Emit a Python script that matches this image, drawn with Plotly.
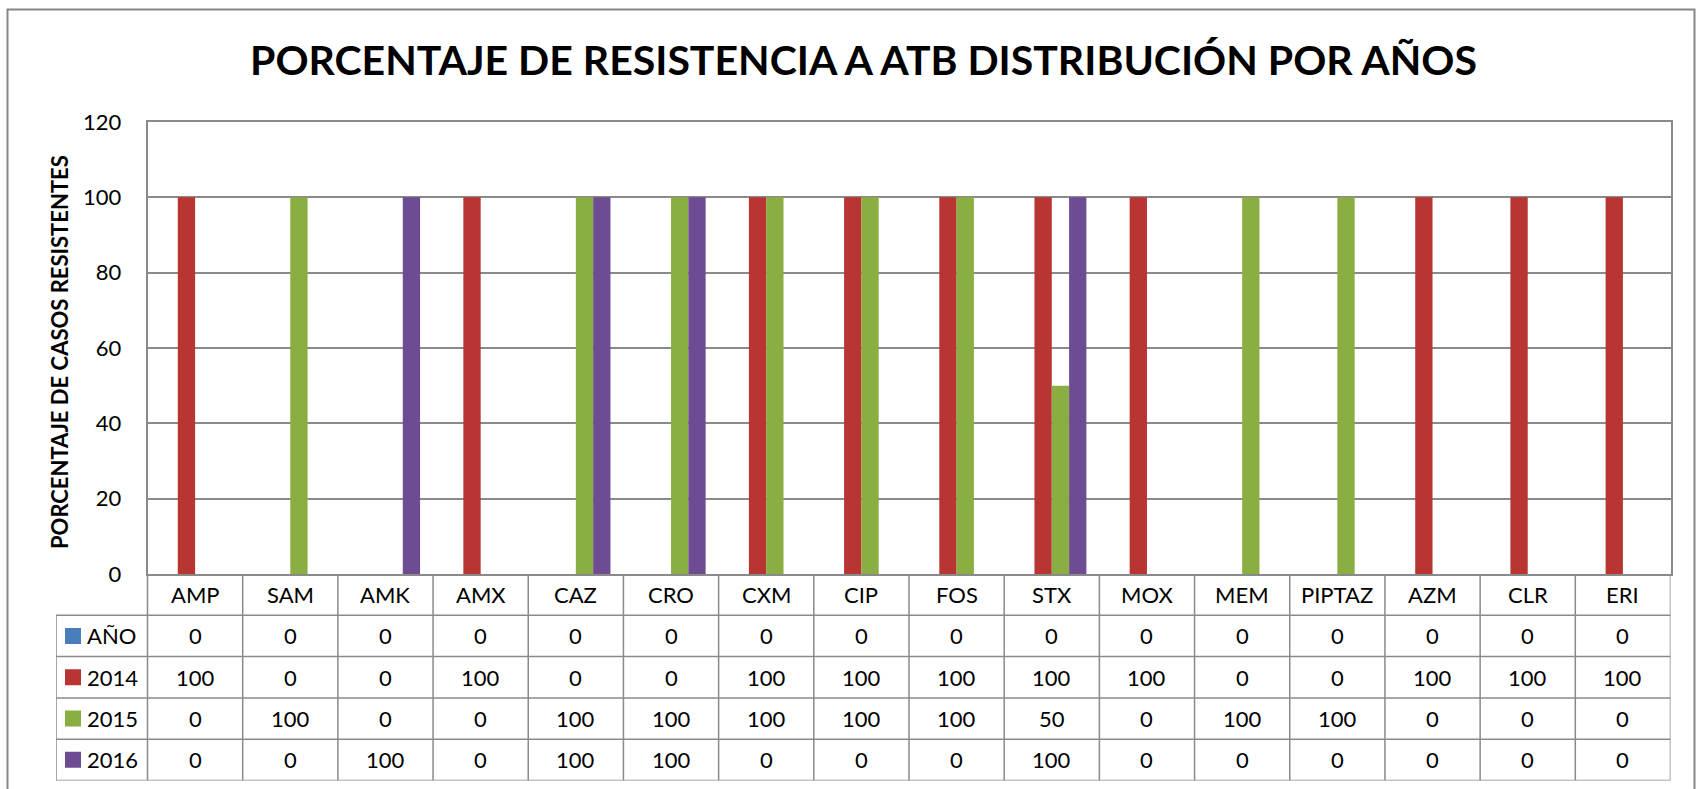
import plotly.graph_objects as go

# datos
antibioticos = ["AMP", "SAM", "AMK", "AMX", "CAZ", "CRO", "CXM", "CIP",
                "FOS", "STX", "MOX", "MEM", "PIPTAZ", "AZM", "CLR", "ERI"]
series = ["AÑO", "2014", "2015", "2016"]
anio = [0, 0, 0, 0, 0, 0, 0, 0, 0, 0, 0, 0, 0, 0, 0, 0]
v2014 = [100, 0, 0, 100, 0, 0, 100, 100, 100, 100, 100, 0, 0, 100, 100, 100]
v2015 = [0, 100, 0, 0, 100, 100, 100, 100, 100, 50, 0, 100, 100, 0, 0, 0]
v2016 = [0, 0, 100, 0, 100, 100, 0, 0, 0, 100, 0, 0, 0, 0, 0, 0]
y_ticks = [0, 20, 40, 60, 80, 100, 120]

valores = [anio, v2014, v2015, v2016]
colores = ["#4A7EBB", "#B83532", "#8AAE42", "#6E4C93"]

W, H = 1701, 789
FONT = "Lato, Arial, sans-serif"
GRIS = "#8A8A8A"

# geometría en píxeles
px_left, px_right = 147.5, 1670.5
px_top, px_bottom = 122, 574
tabla_bottom = 780.5
leyenda_left = 56
n = len(antibioticos)
col_w = (px_right - px_left) / n
lw = (px_left - leyenda_left) / col_w  # ancho de la columna de leyenda en unidades de categoría
x2_min = -0.5 - lw
n_filas = len(series) + 1

fig = go.Figure()

for nombre, vals, color in zip(series, valores, colores):
    fig.add_trace(go.Bar(
        x=list(range(n)), y=vals, name=nombre,
        marker=dict(color=color, line=dict(width=0)),
        showlegend=False, hoverinfo="y"
    ))

# marcadores de la leyenda en la tabla
marca_x = x2_min + (73 - leyenda_left) / col_w
fig.add_trace(go.Scatter(
    x=[marca_x] * len(series), y=[k + 1.5 for k in range(len(series))],
    mode="markers", xaxis="x2", yaxis="y2",
    marker=dict(symbol="square", size=16, color=colores, line=dict(width=0)),
    showlegend=False, hoverinfo="skip"
))

fuente_tabla = dict(size=22, color="black", family=FONT)
anotaciones = []
# nombres de categoría en la primera fila
for i, ab in enumerate(antibioticos):
    anotaciones.append(dict(x=i, y=0.5, xref="x2", yref="y2", text=ab,
                            showarrow=False, font=fuente_tabla))
# valores de la tabla
for k, (nombre, vals) in enumerate(zip(series, valores)):
    anotaciones.append(dict(x=x2_min + (85 - leyenda_left) / col_w, y=k + 1.5, xref="x2", yref="y2",
                            text=nombre, xanchor="left", showarrow=False, font=fuente_tabla))
    for i, v in enumerate(vals):
        anotaciones.append(dict(x=i, y=k + 1.5, xref="x2", yref="y2", text=str(v),
                                showarrow=False, font=fuente_tabla))

# título y título del eje
anotaciones.append(dict(x=863 / W, y=1 - 60 / H, xref="paper", yref="paper",
                        text="<b>PORCENTAJE DE RESISTENCIA A ATB DISTRIBUCIÓN POR AÑOS</b>",
                        showarrow=False, xanchor="center", yanchor="middle",
                        font=dict(size=41, color="black", family=FONT)))
anotaciones.append(dict(x=59 / W, y=1 - 352 / H, xref="paper", yref="paper",
                        text="<b>PORCENTAJE DE CASOS RESISTENTES</b>", textangle=-90,
                        showarrow=False, xanchor="center", yanchor="middle",
                        font=dict(size=22, color="black", family=FONT)))

# líneas de la tabla
lineas = []
linea = dict(color=GRIS, width=1.5)
for i in range(n + 1):
    lineas.append(dict(type="line", xref="x2", yref="y2", x0=i - 0.5, x1=i - 0.5,
                       y0=0, y1=n_filas, line=linea))
lineas.append(dict(type="line", xref="x2", yref="y2", x0=x2_min, x1=x2_min,
                   y0=1, y1=n_filas, line=linea))
for r in range(1, n_filas + 1):
    lineas.append(dict(type="line", xref="x2", yref="y2", x0=x2_min, x1=n - 0.5,
                       y0=r, y1=r, line=linea))
# borde exterior del gráfico
lineas.append(dict(type="rect", xref="paper", yref="paper", x0=7.5 / W, x1=1694.5 / W,
                   y0=-0.05, y1=1 - 9.5 / H, line=dict(color="#868686", width=2)))

fig.update_layout(
    width=W, height=H,
    margin=dict(l=0, r=0, t=0, b=0, autoexpand=False),
    paper_bgcolor="white", plot_bgcolor="white",
    barmode="group", bargap=1.5 / 5.5, bargroupgap=0,
    font=dict(family=FONT, color="black"),
    xaxis=dict(domain=[px_left / W, px_right / W], range=[-0.5, n - 0.5],
               showticklabels=False, showgrid=False, zeroline=False, automargin=False,
               showline=True, mirror=True, linecolor=GRIS, linewidth=1.5, fixedrange=True),
    yaxis=dict(domain=[1 - px_bottom / H, 1 - px_top / H], range=[0, 120],
               tickvals=y_ticks, showgrid=True, gridcolor=GRIS, gridwidth=1.5,
               zeroline=False, showline=True, mirror=True, linecolor=GRIS, linewidth=1.5,
               ticks="", ticklabelstandoff=20, automargin=False,
               tickfont=dict(size=22, color="black", family=FONT), fixedrange=True),
    xaxis2=dict(domain=[leyenda_left / W, px_right / W], range=[x2_min, n - 0.5],
                anchor="y2", visible=False, fixedrange=True, automargin=False),
    yaxis2=dict(domain=[1 - tabla_bottom / H, 1 - px_bottom / H], range=[n_filas, 0],
                anchor="x2", visible=False, fixedrange=True, automargin=False),
    annotations=anotaciones,
    shapes=lineas,
)

# sin margen en el body para que la figura ocupe la ventana exacta
fig.write_html("out.html", config={"displayModeBar": False},
               post_script="document.body.style.margin='0';")
